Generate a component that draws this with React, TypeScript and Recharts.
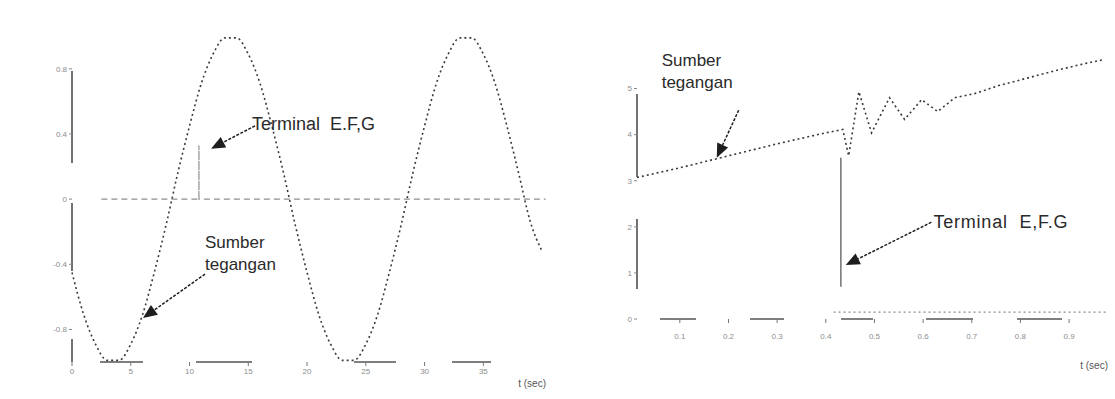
import React from 'react'
import { ComposedChart, Line, XAxis, YAxis, ReferenceLine } from 'recharts'

const FONT = '"Liberation Sans", Arial, sans-serif'
const INK = '#3a3a3a'

// left plot: source voltage over two cycles, time in ms
const leftTime = [
  0, 1, 2, 3, 4, 5, 6, 7, 8, 9, 10, 11, 12, 13, 14, 15, 16, 17, 18, 19,
  20, 21, 22, 23, 24, 25, 26, 27, 28, 29, 30, 31, 32, 33, 34, 35, 36, 37, 38, 39, 40,
]
const leftSource = [
  -0.45, -0.71, -0.89, -0.99, -0.99, -0.89, -0.71, -0.45, -0.16, 0.16,
  0.45, 0.71, 0.89, 0.99, 0.99, 0.89, 0.71, 0.45, 0.16, -0.16,
  -0.45, -0.71, -0.89, -0.99, -0.99, -0.89, -0.71, -0.45, -0.16, 0.16,
  0.45, 0.71, 0.89, 0.99, 0.99, 0.89, 0.71, 0.45, 0.16, -0.14, -0.32,
]
// terminal E,F,G stays at zero except for the jump at the switching instant
const leftTerminalTime = [2.5, 10.8, 10.8, 10.8, 40.3]
const leftTerminalValue = [0, 0, 0.33, 0, 0]
const leftTimeTicks = [0, 5, 10, 15, 20, 25, 30, 35]
const leftValueTicks = [-0.8, -0.4, 0, 0.4, 0.8]

// right plot: ramping source voltage with the switching transient, time in s
const rightTime = [
  0.012, 0.1, 0.2, 0.3, 0.4, 0.435, 0.447, 0.468, 0.494, 0.531, 0.562,
  0.597, 0.63, 0.665, 0.706, 0.757, 0.819, 0.88, 0.932, 0.973,
]
const rightSource = [
  3.07, 3.28, 3.54, 3.8, 4.04, 4.11, 3.54, 4.93, 4.04, 4.8, 4.33,
  4.76, 4.5, 4.8, 4.89, 5.07, 5.24, 5.41, 5.54, 5.63,
]
const rightTerminalTime = [0.431, 0.431]
const rightTerminalValue = [0.7, 3.5]
const rightLowTime = [0.416, 0.98]
const rightLowValue = [0.15, 0.15]
const rightTimeTicks = [0.1, 0.2, 0.3, 0.4, 0.5, 0.6, 0.7, 0.8, 0.9]
const rightValueTicks = [0, 1, 2, 3, 4, 5]

const zip = (xs: number[], ys: number[]) => xs.map((t, i) => ({ t, v: ys[i] }))

const leftSourceData = zip(leftTime, leftSource)
const leftTerminalData = zip(leftTerminalTime, leftTerminalValue)
const rightSourceData = zip(rightTime, rightSource)
const rightTerminalData = zip(rightTerminalTime, rightTerminalValue)
const rightLowData = zip(rightLowTime, rightLowValue)

// dashed arrow with a filled head, caption placed relative to the tail
const arrow = (lines: string[], dx: number, dy: number, fs: number, spacing = 0) => (p: any) => {
  const { x1, y1, x2, y2 } = p
  const a = Math.atan2(y2 - y1, x2 - x1)
  const L = 14
  const W = 6
  const bx = x2 - L * Math.cos(a)
  const by = y2 - L * Math.sin(a)
  const head = `${x2},${y2} ${bx + W * Math.sin(a)},${by - W * Math.cos(a)} ${bx - W * Math.sin(a)},${by + W * Math.cos(a)}`
  return (
    <g>
      <line x1={x1} y1={y1} x2={bx} y2={by} stroke="#1e1e1e" strokeWidth={1.5} strokeDasharray="3 1.5" />
      <polygon points={head} fill="#1e1e1e" />
      {lines.map((s, i) => (
        <text
          key={i}
          x={x1 + dx}
          y={y1 + dy + i * 22}
          fontSize={fs}
          fontFamily={FONT}
          fill="#2a2a2a"
          letterSpacing={spacing}
          style={{ whiteSpace: 'pre' }}
        >
          {s}
        </text>
      ))}
    </g>
  )
}

const timeLabel = (xEnd: number, yMid: number) => (props: any) => {
  const vb = props.viewBox
  return (
    <text x={vb.x + vb.width + xEnd} y={vb.y + yMid} fontSize={10} fontFamily={FONT} fill="#555" textAnchor="end">
      t (sec)
    </text>
  )
}

const tickStyle = { fontSize: 8, fill: '#8c8c8c', fontFamily: FONT }

export default function App() {
  return (
    <div style={{ position: 'absolute', left: 0, top: 0, width: 1115, height: 399, background: '#fff', overflow: 'hidden' }}>
      <div style={{ position: 'absolute', left: 0, top: 0 }}>
        <ComposedChart width={555} height={399} margin={{ top: 20, right: 7, bottom: 0, left: 0 }}>
          <XAxis
            dataKey="t"
            type="number"
            domain={[0, 40.5]}
            ticks={leftTimeTicks}
            interval={0}
            height={37}
            tickSize={4}
            axisLine={{ stroke: '#555', strokeWidth: 1.5, strokeDasharray: '0 28 43 53 56 102 42 56 39 100' }}
            tickLine={{ stroke: '#777' }}
            tick={tickStyle}
            label={{ content: timeLabel(-2, 25) }}
          />
          <YAxis
            type="number"
            domain={[-1, 1.1]}
            ticks={leftValueTicks}
            width={72}
            tickSize={3}
            axisLine={{ stroke: '#444', strokeWidth: 1.5, strokeDasharray: '0 51 92 40 68 68 30 0' }}
            tickLine={{ stroke: '#888' }}
            tick={tickStyle}
          />
          <Line data={leftTerminalData} dataKey="v" type="linear" stroke="#8f8f8f" strokeWidth={1.2} strokeDasharray="6 4" dot={false} isAnimationActive={false} />
          <Line data={leftSourceData} dataKey="v" type="monotone" stroke={INK} strokeWidth={1.6} strokeDasharray="2 3" dot={false} isAnimationActive={false} />
          <ReferenceLine segment={[{ x: 15.57, y: 0.45 }, { x: 11.83, y: 0.31 }]} shape={arrow(['Terminal  E.F,G'], -3, 4, 18)} />
          <ReferenceLine segment={[{ x: 11.32, y: -0.46 }, { x: 6.04, y: -0.73 }]} shape={arrow(['Sumber', 'tegangan'], 0, -26, 17)} />
        </ComposedChart>
      </div>
      <div style={{ position: 'absolute', left: 555, top: 0 }}>
        <ComposedChart width={560} height={399} margin={{ top: 24, right: 7, bottom: 0, left: 0 }}>
          <XAxis
            dataKey="t"
            type="number"
            domain={[0.012, 0.98]}
            ticks={rightTimeTicks}
            interval={0}
            height={80}
            tickSize={4}
            axisLine={{ stroke: '#555', strokeWidth: 1.5, strokeDasharray: '0 23 36 54 34 57 32 53 47 44 45 100' }}
            tickLine={{ stroke: '#777' }}
            tick={{ ...tickStyle, dy: 8 }}
            tickFormatter={(t: number) => t.toFixed(1)}
            label={{ content: timeLabel(0, 50) }}
          />
          <YAxis
            type="number"
            domain={[0, 6.4]}
            ticks={rightValueTicks}
            width={82}
            tickSize={3}
            axisLine={{ stroke: '#444', strokeWidth: 1.5, strokeDasharray: '0 70 83 42 70 200' }}
            tickLine={{ stroke: '#888' }}
            tick={tickStyle}
          />
          <Line data={rightLowData} dataKey="v" type="linear" stroke="#8a8a8a" strokeWidth={1.2} strokeDasharray="2 3" dot={false} isAnimationActive={false} />
          <Line data={rightTerminalData} dataKey="v" type="linear" stroke="#666" strokeWidth={1.4} dot={false} isAnimationActive={false} />
          <Line data={rightSourceData} dataKey="v" type="linear" stroke={INK} strokeWidth={1.6} strokeDasharray="2 3" dot={false} isAnimationActive={false} />
          <ReferenceLine segment={[{ x: 0.221, y: 4.53 }, { x: 0.176, y: 3.5 }]} shape={arrow(['Sumber', 'tegangan'], -77, -44, 17)} />
          <ReferenceLine segment={[{ x: 0.617, y: 2.1 }, { x: 0.441, y: 1.17 }]} shape={arrow(['Terminal  E,F.G'], 2, 6, 18, 0.8)} />
        </ComposedChart>
      </div>
    </div>
  )
}
